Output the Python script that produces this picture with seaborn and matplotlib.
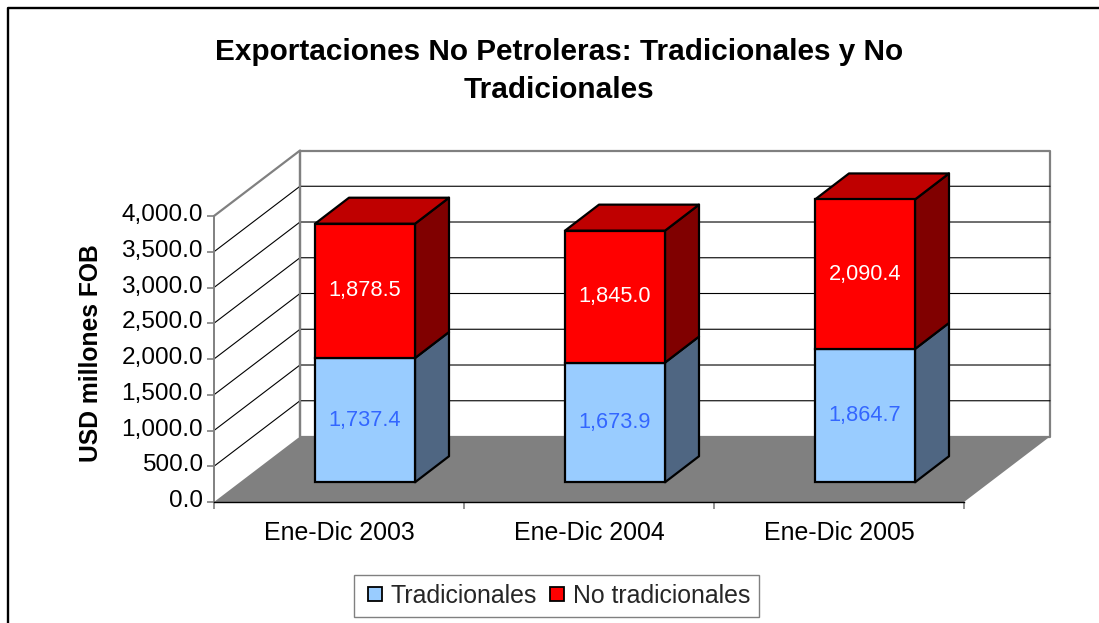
import matplotlib
matplotlib.use('Agg')
import matplotlib.pyplot as plt
import seaborn as sns
from matplotlib.lines import Line2D
from matplotlib.patches import Polygon, Rectangle
from matplotlib.transforms import ScaledTranslation

# Datos
periodos = ['Ene-Dic 2003', 'Ene-Dic 2004', 'Ene-Dic 2005']
tradicionales = [1737.4, 1673.9, 1864.7]
no_tradicionales = [1878.5, 1845.0, 2090.4]
y_ticks = [0, 500, 1000, 1500, 2000, 2500, 3000, 3500, 4000]

W, H = 1099, 623
AZUL, ROJO = '#99CCFF', '#FF0000'
AZUL_LADO, ROJO_LADO = '#4F6682', '#800000'
ROJO_TECHO = '#BF0000'
GRIS = '#808080'

# Profundidad del falso 3D, en unidades de datos
PROF_X = 0.344     # pared completa
PROF_Y = 916
BAR_W = 0.4
BAR_PX = 0.136     # profundidad de la barra
BAR_PY = 364
OFF_X = (PROF_X - BAR_PX) / 2
OFF_Y = (PROF_Y - BAR_PY) / 2

sns.set_style('white')
plt.rcParams['font.family'] = ['Liberation Sans', 'DejaVu Sans']

fig = plt.figure(figsize=(W / 100, H / 100), dpi=100)
ax = fig.add_axes([214 / W, 1 - 502 / H, 750 / W, 286 / H])
ax.patch.set_alpha(0)

# Marco exterior: solo arriba y a la izquierda, el resto queda cortado
fig.add_artist(Line2D([7.5 / W, 7.5 / W, 1], [0, 1 - 8 / H, 1 - 8 / H], color='black',
                      linewidth=1.7, transform=fig.transFigure))

x0, x1 = -0.5, 2.5
y_max = y_ticks[-1]


def poly(puntos, color, z, ec='none', lw=0):
    ax.add_patch(Polygon(puntos, closed=True, facecolor=color, edgecolor=ec, linewidth=lw,
                         zorder=z, clip_on=False, joinstyle='round'))


# Pared del fondo y lateral
poly([(x0 + PROF_X, PROF_Y), (x1 + PROF_X, PROF_Y), (x1 + PROF_X, y_max + PROF_Y),
      (x0 + PROF_X, y_max + PROF_Y)], 'white', 0.5, GRIS, 1.6)
ax.plot([x0, x0 + PROF_X], [y_max, y_max + PROF_Y], color=GRIS, lw=1.6, zorder=0.6, clip_on=False)
ax.plot([x0 + PROF_X, x0 + PROF_X], [PROF_Y, y_max + PROF_Y], color=GRIS, lw=1.6, zorder=0.7, clip_on=False)

# Rejilla
for v in y_ticks[1:-1]:
    ax.plot([x0, x0 + PROF_X, x1 + PROF_X], [v, v + PROF_Y, v + PROF_Y],
            color='black', lw=0.8, zorder=0.6, clip_on=False)

# Piso
poly([(x0, 0), (x1, 0), (x1 + PROF_X, PROF_Y), (x0 + PROF_X, PROF_Y)], GRIS, 1)

# Caras frontales con seaborn
sns.barplot(x=periodos, y=tradicionales, color=AZUL, saturation=1, width=BAR_W, bottom=OFF_Y,
            edgecolor='black', linewidth=1.6, ax=ax, zorder=3, clip_on=False)
base = [t + OFF_Y for t in tradicionales]
sns.barplot(x=periodos, y=no_tradicionales, color=ROJO, saturation=1, width=BAR_W, bottom=base,
            edgecolor='black', linewidth=1.6, ax=ax, zorder=3, clip_on=False)
for p in ax.patches:
    if isinstance(p, Rectangle):
        p.set_x(p.get_x() + OFF_X)

# Caras laterales y techo
for i in range(len(periodos)):
    xl = i - BAR_W / 2 + OFF_X
    xr = i + BAR_W / 2 + OFF_X
    y1 = base[i]
    y2 = y1 + no_tradicionales[i]
    poly([(xr, OFF_Y), (xr + BAR_PX, OFF_Y + BAR_PY), (xr + BAR_PX, y1 + BAR_PY), (xr, y1)],
         AZUL_LADO, 2, 'black', 1.6)
    poly([(xr, y1), (xr + BAR_PX, y1 + BAR_PY), (xr + BAR_PX, y2 + BAR_PY), (xr, y2)],
         ROJO_LADO, 2, 'black', 1.6)
    poly([(xl, y2), (xr, y2), (xr + BAR_PX, y2 + BAR_PY), (xl + BAR_PX, y2 + BAR_PY)],
         ROJO_TECHO, 2, 'black', 1.6)
    ax.text(i + OFF_X, OFF_Y + tradicionales[i] / 2, f'{tradicionales[i]:,.1f}',
            color='#3366FF', fontsize=15.7, ha='center', va='center', zorder=5)
    ax.text(i + OFF_X, y1 + no_tradicionales[i] / 2, f'{no_tradicionales[i]:,.1f}',
            color='white', fontsize=15.7, ha='center', va='center', zorder=5)

# Ejes
ax.set_xlim(x0, x1)
ax.set_ylim(0, y_max)
sns.despine(ax=ax, top=True, right=True)
ax.spines['left'].set_color(GRIS)
ax.spines['left'].set_linewidth(1.4)
ax.spines['bottom'].set_color('black')
ax.spines['bottom'].set_linewidth(1.0)
ax.spines['bottom'].set_zorder(4)
ax.set_yticks(y_ticks)
ax.set_yticklabels([f'{v:,.1f}' for v in y_ticks], fontsize=17.6, color='black')
ax.tick_params(axis='y', which='major', left=True, length=5, width=1.2, color=GRIS, pad=3)
# las etiquetas del eje y van un poco por encima de su marca
for lab in ax.get_yticklabels():
    lab.set_transform(lab.get_transform() + ScaledTranslation(0, 2.5 / 72, fig.dpi_scale_trans))
ax.set_xticks([0, 1, 2])
ax.set_xticklabels(periodos, fontsize=17.9, color='black')
ax.set_xticks([-0.5, 0.5, 1.5, 2.5], minor=True)
ax.tick_params(axis='x', which='major', bottom=False, pad=10)
ax.tick_params(axis='x', which='minor', bottom=True, length=5, width=1.2, color=GRIS)

fig.text(90.5 / W, 1 - 353 / H, 'USD millones FOB', rotation=90, ha='center', va='center',
         fontsize=17.7, fontweight='bold', color='black')
fig.text(559 / W, 1 - 71 / H, 'Exportaciones No Petroleras: Tradicionales y No\nTradicionales',
         ha='center', va='center', fontsize=21.4, fontweight='bold', color='black', linespacing=1.45)

# Leyenda
handles = [Line2D([], [], linestyle='none', marker='s', markersize=9.5, markerfacecolor=c,
                  markeredgecolor='black', markeredgewidth=1.3) for c in (AZUL, ROJO)]
fig.legend(handles, ['Tradicionales', 'No tradicionales'], loc='center',
           bbox_to_anchor=(556.5 / W, 1 - 596 / H), ncol=2, fontsize=17.9, frameon=True,
           fancybox=False, edgecolor=GRIS, framealpha=1, handletextpad=0.13, columnspacing=0.3,
           borderpad=0.35, handlelength=1.0)

fig.savefig('out.png', dpi=100)
